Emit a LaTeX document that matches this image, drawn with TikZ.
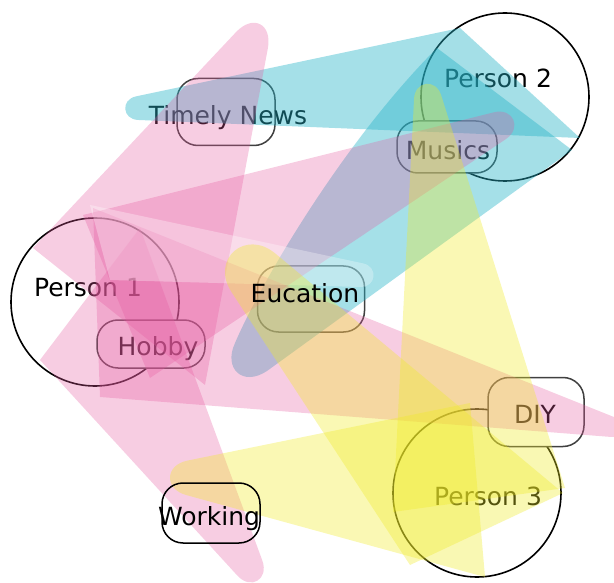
\documentclass[tikz,border=0pt]{standalone}
\usepackage{fontspec}
\setmainfont{DejaVu Sans}
\usetikzlibrary{calc}
\definecolor{cyanC}{RGB}{40,180,200}
\definecolor{pinkC}{RGB}{230,90,160}
\definecolor{yellowC}{RGB}{240,235,40}
% #1 style, #2 base corner on the left (seen from the tip), #3 other base corner,
% #4 centre of the rounded tip, #5 tip radius, #6 control length
\newcommand\petal[6]{%
  \coordinate (pA) at #2; \coordinate (pB) at #3; \coordinate (pQ) at #4;
  \coordinate (tA) at ($(pQ)!#5pt!90:(pA)$);
  \coordinate (tB) at ($(pQ)!#5pt!-90:(pB)$);
  \fill[#1] (pA) -- (tA) .. controls ($(tA)!#6pt!180:(pA)$) and ($(tB)!#6pt!180:(pB)$) .. (tB) -- (pB) -- cycle;}
\begin{document}
\begin{tikzpicture}[x=1pt,y=-1pt,
  person/.style={circle, draw=black, line width=1.6pt, fill=white, minimum size=168pt, inner sep=0pt},
  topic/.style={draw=black!75, line width=1.5pt, fill=white, rounded corners=21pt, inner sep=0pt},
  topicfree/.style={topic, fill=none},
  lbl/.style={anchor=base, inner sep=0pt, font=\fontsize{25}{30}\selectfont},
  cy/.style={fill=cyanC, fill opacity=0.42},
  pk/.style={fill=pinkC, fill opacity=0.3},
  wh/.style={fill=white, fill opacity=0.3},
  yl/.style={fill=yellowC, fill opacity=0.35}]
\useasboundingbox (0,0) rectangle (614,583);
% persons
\node[person] (p1) at (95,302) {};
\node[person] (p2) at (505,97) {};
\node[person] (p3) at (477,493) {};
% topics under the hyperedges
\node[topic, minimum width=98pt, minimum height=67pt] (tn) at (226,112) {};
\node[topic, minimum width=100pt, minimum height=52pt] (mu) at (447,147) {};
\node[topic, minimum width=107pt, minimum height=66pt] (ed) at (311,299) {};
\node[topic, minimum width=108pt, minimum height=48pt] (ho) at (151,344) {};
\node[topic, minimum width=96pt, minimum height=69pt] (di) at (536,412) {};
% labels under the hyperedges
\node[lbl] (lp1) at (88,297) {Person 1};
\node[lbl] (lp2) at (498,88) {Person 2};
\node[lbl] (lp3) at (488,505) {Person 3};
\node[lbl] (ltn) at (228,125) {Timely News};
\node[lbl] (lmu) at (448,160) {Musics};
\node[lbl] (lho) at (158,355) {Hobby};
\node[lbl] (ldi) at (535,423) {DIY};
% hyperedges of Person 2
\petal{cy}{(460,28)}{(580,138)}{(139,108)}{12}{16}
\fill[cy] (572,150) -- (267,371) .. controls (243,387) and (223,369) .. (235,343)
  .. controls (262,280) and (345,140) .. (437,48) -- cycle;
% hyperedges of Person 1
\petal{pk}{(205,385)}{(33,248)}{(249,46)}{19}{25}
\petal{pk}{(150,378)}{(83,215)}{(497,127)}{15}{20}
\petal{pk}{(100,397)}{(93,208)}{(612,427)}{10}{13}
\petal{pk}{(40,360)}{(140,228)}{(248,565)}{15}{20}
\petal{wh}{(110,280)}{(90,205)}{(360,275)}{12}{16}
% hyperedges of Person 3
\petal{yl}{(565,488)}{(393,512)}{(428,100)}{14}{18}
\petal{yl}{(563,493)}{(410,565)}{(258,278)}{30}{39}
\petal{yl}{(470,403)}{(485,577)}{(192,478)}{18}{23}
% items on top
\node[lbl] (led) at (305,302) {Eucation};
\node[topicfree, draw=black, minimum width=98pt, minimum height=60pt] (wo) at (211,513) {};
\node[lbl] (lwo) at (209,525) {Working};
\end{tikzpicture}
\end{document}
